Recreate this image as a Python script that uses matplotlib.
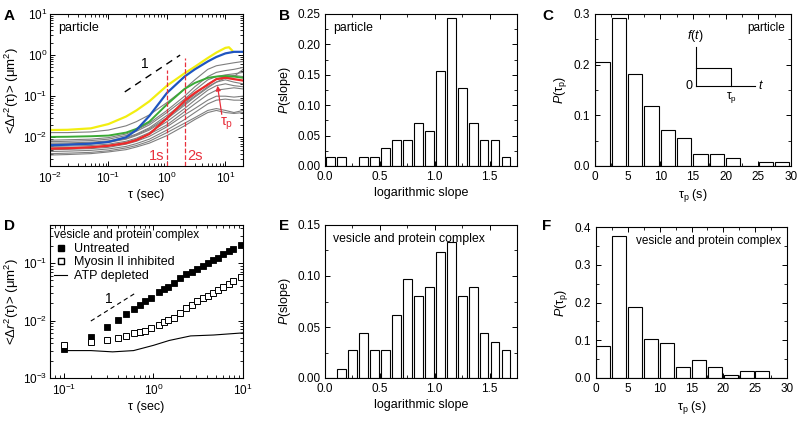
import numpy as np
import matplotlib
matplotlib.use("Agg")
import matplotlib.pyplot as plt
from matplotlib.ticker import MultipleLocator, FormatStrFormatter, LogLocator, NullFormatter
from matplotlib.lines import Line2D

plt.rcParams['font.family'] = ['Liberation Sans', 'DejaVu Sans']
plt.rcParams['mathtext.fontset'] = 'custom'
plt.rcParams['mathtext.rm'] = 'Liberation Sans'
plt.rcParams['mathtext.it'] = 'Liberation Sans:italic'
plt.rcParams['mathtext.bf'] = 'Liberation Sans:bold'
plt.rcParams['axes.linewidth'] = 0.8

# ---- panel A: MSD of single particles ----
tau_a = [0.01, 0.02, 0.05, 0.1, 0.2, 0.3, 0.5, 1, 2, 3, 5, 7, 10, 14, 20]
msd_gray = [
    [0.013, 0.013, 0.0135, 0.015, 0.019, 0.024, 0.035, 0.07, 0.15, 0.25, 0.45, 0.55, 0.6, 0.65, 0.7],
    [0.0085, 0.0087, 0.009, 0.0098, 0.012, 0.015, 0.022, 0.045, 0.1, 0.17, 0.3, 0.38, 0.42, 0.45, 0.5],
    [0.0078, 0.008, 0.0083, 0.009, 0.011, 0.014, 0.02, 0.04, 0.085, 0.14, 0.25, 0.3, 0.33, 0.35, 0.38],
    [0.0072, 0.0073, 0.0076, 0.0082, 0.0098, 0.012, 0.017, 0.034, 0.07, 0.11, 0.2, 0.26, 0.3, 0.32, 0.3],
    [0.0068, 0.0069, 0.0072, 0.0078, 0.0093, 0.0115, 0.016, 0.03, 0.065, 0.1, 0.17, 0.22, 0.28, 0.3, 0.45],
    [0.0065, 0.0066, 0.0069, 0.0075, 0.009, 0.011, 0.015, 0.028, 0.06, 0.095, 0.16, 0.22, 0.25, 0.22, 0.2],
    [0.006, 0.0061, 0.0063, 0.0068, 0.008, 0.0095, 0.013, 0.024, 0.05, 0.08, 0.14, 0.18, 0.2, 0.18, 0.17],
    [0.0055, 0.0056, 0.0058, 0.0063, 0.0075, 0.009, 0.012, 0.02, 0.042, 0.065, 0.11, 0.14, 0.15, 0.16, 0.15],
    [0.005, 0.0051, 0.0053, 0.0057, 0.0068, 0.008, 0.0105, 0.018, 0.035, 0.05, 0.08, 0.1, 0.1, 0.095, 0.1],
    [0.0045, 0.0046, 0.0048, 0.0052, 0.006, 0.007, 0.009, 0.015, 0.027, 0.04, 0.065, 0.08, 0.085, 0.08, 0.08],
    [0.004, 0.0041, 0.0043, 0.0047, 0.0055, 0.0063, 0.008, 0.013, 0.022, 0.03, 0.045, 0.05, 0.045, 0.04, 0.045],
    [0.0037, 0.0038, 0.004, 0.0044, 0.005, 0.0058, 0.0072, 0.011, 0.019, 0.027, 0.04, 0.045, 0.04, 0.038, 0.04],
]
msd_blue = [0.0064, 0.0066, 0.007, 0.0077, 0.01, 0.015, 0.033, 0.12, 0.3, 0.45, 0.7, 0.9, 1.1, 1.2, 1.2]
msd_green = [0.0102, 0.0103, 0.0106, 0.011, 0.013, 0.016, 0.024, 0.063, 0.15, 0.21, 0.28, 0.3, 0.31, 0.3, 0.28]
msd_red = [0.0053, 0.0054, 0.0057, 0.0062, 0.0072, 0.0085, 0.012, 0.029, 0.077, 0.12, 0.19, 0.26, 0.28, 0.26, 0.24]
tau_yellow = [0.01, 0.02, 0.05, 0.1, 0.2, 0.3, 0.5, 1, 2, 3, 5, 7, 10, 11.5, 13]
msd_yellow = [0.015, 0.0152, 0.0165, 0.021, 0.032, 0.045, 0.075, 0.18, 0.36, 0.52, 0.85, 1.15, 1.5, 1.55, 1.3]

# ---- panel B / E: slope histograms ----
slope_bins = [0.05, 0.15, 0.25, 0.35, 0.45, 0.55, 0.65, 0.75, 0.85, 0.95, 1.05, 1.15, 1.25, 1.35, 1.45, 1.55, 1.65]
p_slope_particle = [0.014, 0.014, 0, 0.014, 0.014, 0.029, 0.043, 0.043, 0.071, 0.057, 0.157, 0.243, 0.129, 0.071, 0.043, 0.043, 0.014]
p_slope_vesicle = [0, 0.009, 0.027, 0.044, 0.027, 0.027, 0.062, 0.097, 0.080, 0.089, 0.124, 0.133, 0.080, 0.089, 0.044, 0.035, 0.027]

# ---- panel C / F: tau_p histograms ----
taup_bins = [1.15, 3.65, 6.15, 8.65, 11.15, 13.65, 16.15, 18.65, 21.15, 23.65, 26.15, 28.65]
p_taup_particle = [0.205, 0.293, 0.181, 0.119, 0.071, 0.055, 0.024, 0.024, 0.016, 0, 0.008, 0.008]
p_taup_vesicle = [0.085, 0.377, 0.189, 0.104, 0.094, 0.028, 0.047, 0.028, 0.009, 0.019, 0.019, 0]

# ---- panel D: vesicle MSD ----
tau_d = [0.1, 0.2, 0.3, 0.4, 0.5, 0.6, 0.7, 0.8, 0.95, 1.15, 1.3, 1.45, 1.7, 2.0, 2.3, 2.7,
         3.1, 3.6, 4.1, 4.6, 5.2, 6.0, 6.9, 7.8, 9.4]
msd_untreated = [0.0032, 0.0052, 0.0077, 0.0104, 0.013, 0.0159, 0.0189, 0.022, 0.0245, 0.032, 0.0356,
                 0.039, 0.0457, 0.056, 0.064, 0.071, 0.079, 0.089, 0.099, 0.113, 0.125, 0.143, 0.161, 0.179, 0.205]
msd_myosin = [0.0037, 0.0042, 0.0046, 0.005, 0.0054, 0.006, 0.0063, 0.0067, 0.0075, 0.0085, 0.0093,
              0.0104, 0.0111, 0.0136, 0.0165, 0.0189, 0.0215, 0.0243, 0.027, 0.030, 0.034, 0.039, 0.0435, 0.0496, 0.058]
tau_atp = [0.1, 0.2, 0.35, 0.6, 1.0, 1.5, 2.6, 4.7, 10]
msd_atp = [0.003, 0.003, 0.00285, 0.003, 0.0037, 0.0045, 0.0054, 0.0056, 0.0061]

W, H = 800, 421
fig = plt.figure(figsize=(8, 4.21), dpi=100)


def add_ax(l, t, r, b):
    return fig.add_axes([l / W, 1 - b / H, (r - l) / W, (b - t) / H])


def style(ax):
    ax.tick_params(which='both', direction='in', top=True, right=True, labelsize=8.5)
    ax.tick_params(which='major', length=3.5, width=0.7)
    ax.tick_params(which='minor', length=2, width=0.6)


axA = add_ax(50, 14, 243, 166)
axB = add_ax(325, 14, 517, 166)
axC = add_ax(595, 14, 791, 166)
axD = add_ax(50, 225, 243, 378)
axE = add_ax(325, 225, 517, 378)
axF = add_ax(596, 227, 787, 378)

red = '#e8303c'
msd_label = r'<Δ$r^2$(τ)> (μm$^2$)'

# A
for ys in msd_gray:
    axA.plot(tau_a, ys, color='#7f7f7f', lw=0.8)
axA.plot(tau_yellow, msd_yellow, color='#f2ee10', lw=1.6)
axA.plot(tau_a, msd_green, color='#3aaa35', lw=1.4)
axA.plot(tau_a, msd_blue, color='#1f55c0', lw=1.6)
axA.plot(tau_a, msd_red, color='#ee2a2a', lw=1.6)
axA.plot([0.19, 1.68], [0.127, 1.0], color='k', lw=1.0, dashes=(5, 4))
axA.text(0.42, 0.6, '1', fontsize=10, ha='center', va='center')
axA.plot([1, 1], [0.002, 0.43], color=red, lw=0.9, ls='--')
axA.plot([2, 2], [0.002, 0.85], color=red, lw=0.9, ls='--')
axA.text(0.9, 0.0035, '1s', color=red, fontsize=10.5, ha='right', va='center')
axA.text(2.2, 0.0035, '2s', color=red, fontsize=10.5, ha='left', va='center')
axA.annotate('', xy=(7.2, 0.21), xytext=(8.8, 0.031),
             arrowprops=dict(arrowstyle='-|>', color=red, lw=0.9, mutation_scale=7))
axA.text(10.5, 0.021, r'τ$_\mathrm{p}$', color=red, fontsize=10.5, ha='center', va='center')
axA.set_xscale('log')
axA.set_yscale('log')
axA.set_xlim(0.01, 20)
axA.set_ylim(0.002, 10)
axA.text(0.04, 0.95, 'particle', transform=axA.transAxes, fontsize=9, va='top')
axA.set_xlabel('τ (sec)', fontsize=9, labelpad=2)
axA.set_ylabel(msd_label, fontsize=9.5)
axA.yaxis.set_label_coords(-0.15, 0.5)
style(axA)
axA.tick_params(axis='y', which='major', pad=2)
axA.xaxis.set_minor_locator(LogLocator(subs=np.arange(2, 10)))
axA.xaxis.set_minor_formatter(NullFormatter())
axA.yaxis.set_minor_locator(LogLocator(subs=np.arange(2, 10)))
axA.yaxis.set_minor_formatter(NullFormatter())


def slope_hist(ax, vals, label):
    ax.bar(slope_bins, vals, width=0.08, color='white', edgecolor='black', lw=0.8)
    ax.set_xlim(0, 1.75)
    ax.xaxis.set_major_locator(MultipleLocator(0.5))
    ax.xaxis.set_minor_locator(MultipleLocator(0.25))
    ax.xaxis.set_major_formatter(FormatStrFormatter('%.1f'))
    ax.yaxis.set_major_locator(MultipleLocator(0.05))
    ax.yaxis.set_minor_locator(MultipleLocator(0.025))
    ax.yaxis.set_major_formatter(FormatStrFormatter('%.2f'))
    ax.set_xlabel('logarithmic slope', fontsize=9, labelpad=3)
    ax.set_ylabel(r'$P$(slope)', fontsize=9, labelpad=3)
    ax.text(0.04, 0.95, label, transform=ax.transAxes, fontsize=8.8, va='top')
    style(ax)


slope_hist(axB, p_slope_particle, 'particle')
axB.set_ylim(0, 0.25)
slope_hist(axE, p_slope_vesicle, 'vesicle and protein complex')
axE.set_ylim(0, 0.15)


def taup_hist(ax, vals, label):
    ax.bar(taup_bins, vals, width=2.2, color='white', edgecolor='black', lw=0.8)
    ax.set_xlim(0, 30)
    ax.xaxis.set_major_locator(MultipleLocator(5))
    ax.xaxis.set_minor_locator(MultipleLocator(2.5))
    ax.yaxis.set_major_locator(MultipleLocator(0.1))
    ax.yaxis.set_minor_locator(MultipleLocator(0.05))
    ax.yaxis.set_major_formatter(FormatStrFormatter('%.1f'))
    ax.set_xlabel(r'τ$_\mathrm{p}$ (s)', fontsize=9, labelpad=3)
    ax.set_ylabel(r'$P$(τ$_\mathrm{p}$)', fontsize=9, labelpad=3)
    ax.text(0.97, 0.95, label, transform=ax.transAxes, fontsize=8.5, va='top', ha='right')
    style(ax)


taup_hist(axC, p_taup_particle, 'particle')
axC.set_ylim(0, 0.3)
taup_hist(axF, p_taup_vesicle, 'vesicle and protein complex')
axF.set_ylim(0, 0.4)

# inset sketch in C: f(t) step of duration tau_p
tr = axC.transAxes
axC.plot([0.514, 0.514], [0.528, 0.785], color='k', lw=0.8, transform=tr)
axC.plot([0.514, 0.816], [0.528, 0.528], color='k', lw=0.8, transform=tr)
axC.plot([0.514, 0.694, 0.694], [0.647, 0.647, 0.528], color='k', lw=0.8, transform=tr)
axC.text(0.514, 0.80, r'$f$($t$)', transform=tr, fontsize=9, ha='center', va='bottom')
axC.text(0.50, 0.528, '0', transform=tr, fontsize=9, ha='right', va='center')
axC.text(0.83, 0.528, r'$t$', transform=tr, fontsize=9, ha='left', va='center')
axC.text(0.694, 0.50, r'τ$_\mathrm{p}$', transform=tr, fontsize=8.5, ha='center', va='top')

# D
axD.plot(tau_d, msd_untreated, 's', color='black', ms=4, mew=0.6)
axD.plot(tau_d, msd_myosin, 's', mfc='white', mec='black', ms=4, mew=0.7)
axD.plot(tau_atp, msd_atp, '-', color='black', lw=0.8)
axD.plot([0.2, 0.65], [0.0098, 0.031], color='k', lw=0.8, dashes=(4, 3))
axD.text(0.316, 0.024, '1', fontsize=10, ha='center', va='center')
axD.set_xscale('log')
axD.set_yscale('log')
axD.set_xlim(0.07, 10)
axD.set_ylim(0.001, 0.46)
handles = [Line2D([], [], marker='s', ls='none', color='black', ms=4),
           Line2D([], [], marker='s', ls='none', mfc='white', mec='black', ms=4),
           Line2D([], [], color='black', lw=0.8)]
leg = axD.legend(handles, ['Untreated', 'Myosin II inhibited', 'ATP depleted'],
                 title='vesicle and protein complex', loc='upper left', frameon=False,
                 fontsize=9, title_fontsize=8.5, handlelength=1.0, handletextpad=0.6,
                 labelspacing=0.12, borderaxespad=0.2, borderpad=0.15, alignment='left')
axD.set_xlabel('τ (sec)', fontsize=9, labelpad=2)
axD.set_ylabel(msd_label, fontsize=9.5)
axD.yaxis.set_label_coords(-0.15, 0.5)
style(axD)
axD.tick_params(axis='y', which='major', pad=2)
axD.xaxis.set_minor_locator(LogLocator(subs=np.arange(2, 10)))
axD.xaxis.set_minor_formatter(NullFormatter())
axD.yaxis.set_minor_locator(LogLocator(subs=np.arange(2, 10)))
axD.yaxis.set_minor_formatter(NullFormatter())

# panel letters
for lab, x, y in [('A', 4, 16), ('B', 279, 16), ('C', 542, 16),
                  ('D', 4, 226), ('E', 279, 226), ('F', 542, 226)]:
    fig.text(x / W, 1 - y / H, lab, fontsize=11, fontweight='bold', va='center')

fig.savefig('out.png', dpi=100)
